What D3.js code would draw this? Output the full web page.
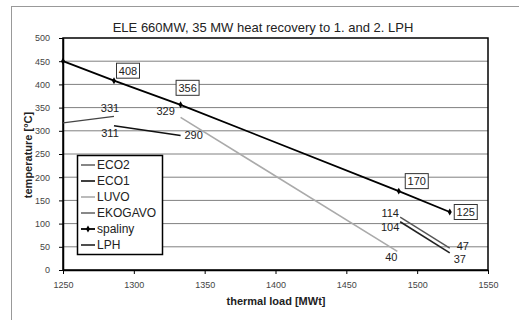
<!DOCTYPE html>
<html>
<head>
<meta charset="utf-8">
<script src="https://cdn.jsdelivr.net/npm/d3@7"></script>
<style>
  body { margin: 0; background: #fff; }
  svg { font-family: "Liberation Sans", Arial, sans-serif; }
</style>
</head>
<body>
<div id="chart"></div>
<script>
const width = 519;
const height = 320;
const MARGIN = { top: 38, right: 31, bottom: 50, left: 63 };

// x ticks / y ticks
const xTicks = [1250, 1300, 1350, 1400, 1450, 1500, 1550];
const yTicks = [0, 50, 100, 150, 200, 250, 300, 350, 400, 450, 500];

// series (thermal load [MWt], temperature [°C])
const spalinyX = [1250, 1286, 1333, 1487, 1523];
const spalinyY = [450, 408, 356, 170, 125];
const eco2X = [1250, 1286];
const eco2Y = [317, 331];
const eco1X = [1286, 1333];
const eco1Y = [311, 290];
const luvoX = [1333, 1486];
const luvoY = [329, 40];
const ekogavoX = [1488, 1523];
const ekogavoY = [114, 47];
const lphX = [1488, 1523];
const lphY = [104, 37];

const seriesNames = ['ECO2', 'ECO1', 'LUVO', 'EKOGAVO', 'spaliny', 'LPH'];

const series = [
  { name: 'ECO2', xs: eco2X, ys: eco2Y, color: '#444', w: 1.3 },
  { name: 'ECO1', xs: eco1X, ys: eco1Y, color: '#111', w: 1.6 },
  { name: 'LUVO', xs: luvoX, ys: luvoY, color: '#aaa', w: 1.6 },
  { name: 'EKOGAVO', xs: ekogavoX, ys: ekogavoY, color: '#555', w: 1.4 },
  { name: 'spaliny', xs: spalinyX, ys: spalinyY, color: '#000', w: 1.8, marker: true },
  { name: 'LPH', xs: lphX, ys: lphY, color: '#222', w: 1.6 }
];

// point labels: [series, index, text, dx, dy, boxed]
const pointLabels = [
  ['spaliny', 1, '408', 14, -10, true],
  ['spaliny', 2, '356', 7, -17, true],
  ['spaliny', 3, '170', 18, -10, true],
  ['spaliny', 4, '125', 16, 0, true],
  ['ECO2', 1, '331', -4, -8, false],
  ['ECO1', 0, '311', -4, 7, false],
  ['ECO1', 1, '290', 13, 0, false],
  ['LUVO', 0, '329', -15, -6, false],
  ['LUVO', 1, '40', -6, 6, false],
  ['EKOGAVO', 0, '114', -10, -4, false],
  ['LPH', 0, '104', -10, 5, false],
  ['EKOGAVO', 1, '47', 13, -2, false],
  ['LPH', 1, '37', 10, 6, false]
];

const svg = d3.select('#chart')
  .append('svg')
  .attr('width', width)
  .attr('height', height);

// outer frame
svg.append('rect')
  .attr('x', 11.5).attr('y', 6.5)
  .attr('width', 520).attr('height', 330)
  .attr('fill', 'none')
  .attr('stroke', '#999');

const iw = width - MARGIN.left - MARGIN.right;
const ih = height - MARGIN.top - MARGIN.bottom;

const x = d3.scaleLinear().domain([1250, 1550]).range([0, iw]);
const y = d3.scaleLinear().domain([0, 500]).range([ih, 0]);

const g = svg.append('g')
  .attr('transform', 'translate(' + MARGIN.left + ',' + MARGIN.top + ')');

// grid
g.selectAll('line.grid')
  .data(yTicks.filter(d => d > 0 && d < 500))
  .join('line')
  .attr('class', 'grid')
  .attr('x1', 0).attr('x2', iw)
  .attr('y1', d => y(d)).attr('y2', d => y(d))
  .attr('stroke', '#808080')
  .attr('stroke-width', 1);

// plot border
g.append('rect')
  .attr('x', 0).attr('y', 0)
  .attr('width', iw).attr('height', ih)
  .attr('fill', 'none')
  .attr('stroke', '#000')
  .attr('stroke-width', 1.5);

// axes
const xAxis = g.append('g')
  .attr('transform', 'translate(0,' + ih + ')')
  .call(d3.axisBottom(x).tickValues(xTicks).tickFormat(d3.format('d'))
    .tickSize(4).tickSizeOuter(0).tickPadding(8));
const yAxis = g.append('g')
  .call(d3.axisLeft(y).tickValues(yTicks).tickSize(4).tickSizeOuter(0).tickPadding(9));
[xAxis, yAxis].forEach(a => {
  a.select('.domain').attr('stroke', '#000').attr('stroke-width', 1.5);
  a.selectAll('.tick line').attr('stroke', '#000');
  a.selectAll('.tick text')
    .attr('fill', '#444')
    .style('font-size', '9px')
    .style('font-family', '"Liberation Sans", Arial, sans-serif');
});

// lines
const line = d3.line().x(d => x(d[0])).y(d => y(d[1]));
series.forEach(s => {
  const pts = s.xs.map((v, i) => [v, s.ys[i]]);
  g.append('path')
    .datum(pts)
    .attr('d', line)
    .attr('fill', 'none')
    .attr('stroke', s.color)
    .attr('stroke-width', s.w);
  if (s.marker) {
    g.selectAll('path.mk')
      .data(pts)
      .join('path')
      .attr('class', 'mk')
      .attr('d', d3.symbol(d3.symbolDiamond, 14))
      .attr('transform', d => 'translate(' + x(d[0]) + ',' + y(d[1]) + ')')
      .attr('fill', '#000');
  }
});

// point labels
pointLabels.forEach(([name, i, txt, dx, dy, boxed]) => {
  const s = series.find(d => d.name === name);
  const px = x(s.xs[i]) + dx;
  const py = y(s.ys[i]) + dy;
  if (boxed) {
    g.append('rect')
      .attr('x', px - 11.5).attr('y', py - 7.5)
      .attr('width', 23).attr('height', 15)
      .attr('fill', '#fff')
      .attr('stroke', '#333');
  }
  g.append('text')
    .attr('x', px).attr('y', py)
    .attr('text-anchor', 'middle')
    .attr('dominant-baseline', 'central')
    .attr('fill', '#222')
    .style('font-size', '11px')
    .text(txt);
});

// legend
const lg = svg.append('g').attr('transform', 'translate(77,155)');
lg.append('rect')
  .attr('x', 0.5).attr('y', 0.5)
  .attr('width', 85).attr('height', 99)
  .attr('fill', '#fff')
  .attr('stroke', '#000')
  .attr('stroke-width', 1.5);
seriesNames.forEach((n, i) => {
  const s = series.find(d => d.name === n);
  const ly = 10 + i * 16;
  lg.append('line')
    .attr('x1', 4).attr('x2', 18)
    .attr('y1', ly).attr('y2', ly)
    .attr('stroke', s.color)
    .attr('stroke-width', s.w);
  if (s.marker) {
    lg.append('path')
      .attr('d', d3.symbol(d3.symbolDiamond, 14))
      .attr('transform', 'translate(11,' + ly + ')')
      .attr('fill', '#000');
  }
  lg.append('text')
    .attr('x', 20).attr('y', ly)
    .attr('dominant-baseline', 'central')
    .attr('fill', '#222')
    .style('font-size', '12px')
    .text(n);
});

// titles
svg.append('text')
  .attr('x', 263).attr('y', 27)
  .attr('text-anchor', 'middle')
  .attr('dominant-baseline', 'central')
  .attr('fill', '#222')
  .style('font-size', '13px')
  .text('ELE 660MW, 35 MW heat recovery to 1. and 2. LPH');

svg.append('text')
  .attr('x', 276).attr('y', 305)
  .attr('text-anchor', 'middle')
  .attr('fill', '#222')
  .style('font-size', '11px')
  .style('font-weight', 'bold')
  .text('thermal load [MWt]');

svg.append('text')
  .attr('transform', 'translate(32,155) rotate(-90)')
  .attr('text-anchor', 'middle')
  .attr('fill', '#222')
  .style('font-size', '11px')
  .style('font-weight', 'bold')
  .text('temperature [°C]');
</script>
</body>
</html>
